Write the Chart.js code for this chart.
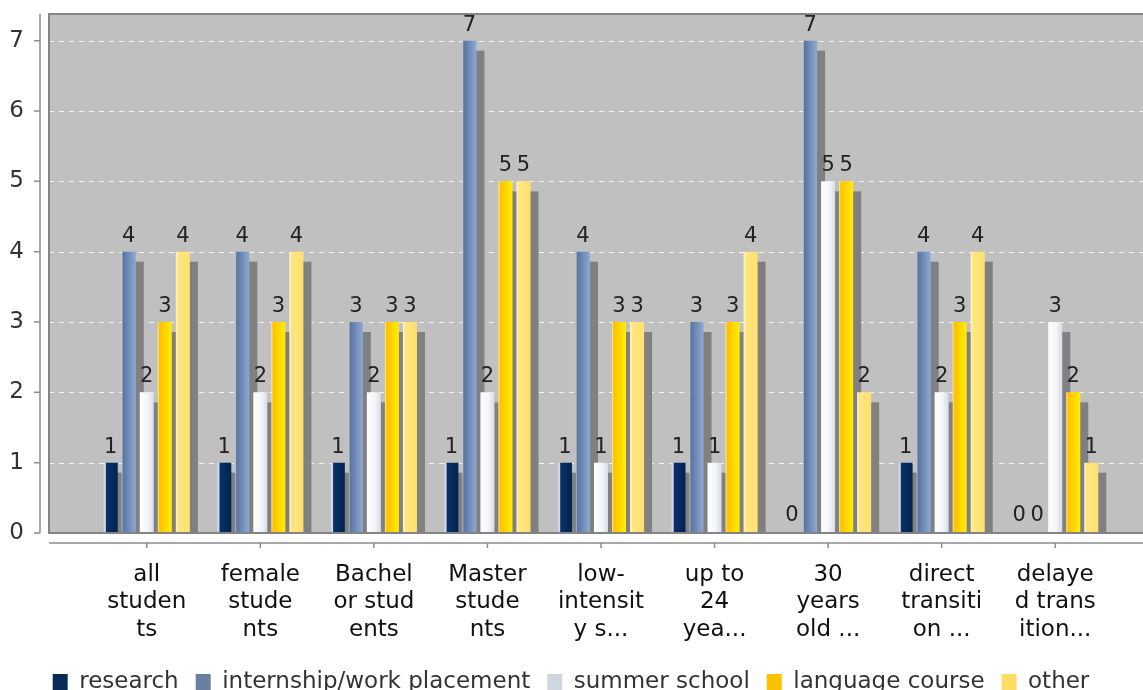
<!DOCTYPE html>
<html>
<head>
<meta charset="utf-8">
<script src="https://cdn.jsdelivr.net/npm/chart.js@4.4.1/dist/chart.umd.min.js"></script>
<style>
  html, body { margin: 0; padding: 0; background: #fff; }
  #wrap { width: 1143px; height: 690px; }
</style>
</head>
<body>
<div id="wrap"><canvas id="chart" width="1143" height="690"></canvas></div>
<script>
// categories (already wrapped the way the original tool cut them)
const categories = [
    ["all", "studen", "ts"],
    ["female", "stude", "nts"],
    ["Bachel", "or stud", "ents"],
    ["Master", "stude", "nts"],
    ["low-", "intensit", "y s..."],
    ["up to", "24", "yea..."],
    ["30", "years", "old ..."],
    ["direct", "transiti", "on ..."],
    ["delaye", "d trans", "ition..."],
];
const research = [1, 1, 1, 1, 1, 1, 0, 1, 0];
const internship = [4, 4, 3, 7, 4, 3, 7, 4, 0];
const summerSchool = [2, 2, 2, 2, 1, 1, 5, 2, 3];
const languageCourse = [3, 3, 3, 5, 3, 3, 5, 3, 2];
const other = [4, 4, 3, 5, 3, 4, 2, 4, 1];
const yMax = 7.38;

// left-to-right gradients, roughly like the java bar painter
const gradients = [
    [[0, "#d0d8e8"], [0.12, "#d0d8e8"], [0.2, "#0a3068"], [1, "#00234f"]],
    [[0, "#c0cce0"], [0.1, "#5a76a0"], [1, "#8eaad4"]],
    [[0, "#ffffff"], [0.6, "#f2f4f7"], [1, "#d6dbe3"]],
    [[0, "#fff0b0"], [0.12, "#ffc000"], [1, "#ffee00"]],
    [[0, "#fffbe0"], [0.15, "#ffe680"], [1, "#ffe070"]],
];

const PLOT_LEFT = 49;
const SHADOW_DX = 8, SHADOW_DY = 10;

const plotDeco = {
    id: "plotDeco",
    afterLayout(chart) {
        // tick labels sit left of the layout padding, don't let them get clipped
        chart.scales.y.left = 0;
    },
    beforeDatasetsDraw(chart) {
        const { ctx, chartArea, scales } = chart;
        const bottom = chartArea.bottom;
        const top = chartArea.top;
        ctx.save();
        // plot background
        ctx.fillStyle = "#c0c0c0";
        ctx.fillRect(PLOT_LEFT, top, chart.width - PLOT_LEFT + 5, bottom - top);
        // dashed grid
        ctx.strokeStyle = "rgba(255,255,255,0.8)";
        ctx.lineWidth = 1;
        ctx.setLineDash([5, 5]);
        scales.y.ticks.forEach(t => {
            if (t.value === 0) return;
            const y = Math.round(scales.y.getPixelForValue(t.value)) + 0.5;
            ctx.beginPath();
            ctx.moveTo(PLOT_LEFT, y);
            ctx.lineTo(chart.width, y);
            ctx.stroke();
        });
        ctx.setLineDash([]);
        // shadows + per-bar gradients
        ctx.beginPath();
        ctx.rect(PLOT_LEFT, top, chart.width, bottom - top);
        ctx.clip();
        ctx.fillStyle = "#808080";
        chart.data.datasets.forEach((ds, i) => {
            chart.getDatasetMeta(i).data.forEach((bar, j) => {
                if (!ds.data[j]) return;
                const w = bar.width;
                ctx.fillRect(bar.x - w / 2 + SHADOW_DX, bar.y + SHADOW_DY, w, bar.base - bar.y);
                const g = ctx.createLinearGradient(bar.x - w / 2, 0, bar.x + w / 2, 0);
                gradients[i].forEach(([o, c]) => g.addColorStop(o, c));
                bar.options.backgroundColor = g;
            });
        });
        ctx.restore();
    },
    afterDatasetsDraw(chart) {
        const { ctx, chartArea, scales } = chart;
        const bottom = chartArea.bottom;
        const top = chartArea.top;
        ctx.save();
        // value labels
        ctx.font = "21px 'DejaVu Sans'";
        ctx.fillStyle = "#222";
        ctx.textAlign = "center";
        ctx.textBaseline = "alphabetic";
        chart.data.datasets.forEach((ds, i) => {
            chart.getDatasetMeta(i).data.forEach((bar, j) => {
                const off = ds.data[j] ? 10 : 12;
                ctx.fillText(String(ds.data[j]), bar.x, bar.y - off);
            });
        });
        // plot outline
        ctx.strokeStyle = "#858585";
        ctx.lineWidth = 2;
        ctx.beginPath();
        ctx.moveTo(chart.width + 2, top);
        ctx.lineTo(PLOT_LEFT, top);
        ctx.lineTo(PLOT_LEFT, bottom);
        ctx.lineTo(chart.width + 2, bottom);
        ctx.stroke();
        // y axis line + tick marks
        ctx.strokeStyle = "#8c8c8c";
        ctx.lineWidth = 1.5;
        ctx.beginPath();
        ctx.moveTo(40, top);
        ctx.lineTo(40, bottom);
        scales.y.ticks.forEach(t => {
            const y = scales.y.getPixelForValue(t.value);
            ctx.moveTo(34, y);
            ctx.lineTo(40, y);
        });
        // x axis line + tick marks
        ctx.moveTo(PLOT_LEFT, bottom + 10);
        ctx.lineTo(chart.width, bottom + 10);
        categories.forEach((c, i) => {
            const x = scales.x.getPixelForValue(i);
            ctx.moveTo(x, bottom + 10);
            ctx.lineTo(x, bottom + 15);
        });
        ctx.stroke();
        ctx.restore();
    },
};

const legendColors = ["#0a2a5a", "#6a80a2", "#cfd6e0", "#ffc000", "#ffdc66"];
// scriptable colour so every bar keeps its own options object
const colorFor = i => c => legendColors[i];

const ctx = document.getElementById("chart").getContext("2d");
new Chart(ctx, {
    type: "bar",
    data: {
        labels: categories,
        datasets: [
            { label: "research", data: research },
            { label: "internship/work placement", data: internship },
            { label: "summer school", data: summerSchool },
            { label: "language course", data: languageCourse },
            { label: "other", data: other },
        ].map((d, i) => Object.assign(d, {
            backgroundColor: colorFor(i),
            borderWidth: 0,
            barPercentage: 0.778,
            categoryPercentage: 0.794,
        })),
    },
    options: {
        responsive: false,
        devicePixelRatio: 1,
        animation: false,
        layout: { padding: { left: 30, right: 31, top: 14, bottom: -14 } },
        scales: {
            x: {
                grid: { display: false },
                border: { display: false },
                ticks: {
                    font: { family: "DejaVu Sans", size: 23, lineHeight: 1.2 },
                    color: "#111",
                    maxRotation: 0,
                    autoSkip: false,
                    padding: 20,
                },
                afterFit(scale) {
                    scale.height = 121;
                    scale.paddingLeft = 0;
                    scale.paddingRight = 0;
                },
            },
            y: {
                min: 0,
                max: yMax,
                grid: { display: false },
                border: { display: false },
                ticks: {
                    stepSize: 1,
                    includeBounds: false,
                    font: { family: "DejaVu Sans", size: 23 },
                    color: "#333",
                    padding: 58,
                },
                afterFit(scale) {
                    scale.width = 60;
                    scale.paddingTop = 0;
                    scale.paddingBottom = 0;
                },
            },
        },
        plugins: {
            tooltip: { enabled: false },
            legend: {
                position: "bottom",
                labels: {
                    boxWidth: 15,
                    boxHeight: 17,
                    padding: 17,
                    color: "#333",
                    font: { family: "DejaVu Sans", size: 23 },
                },
            },
        },
    },
    plugins: [plotDeco],
});
</script>
</body>
</html>
